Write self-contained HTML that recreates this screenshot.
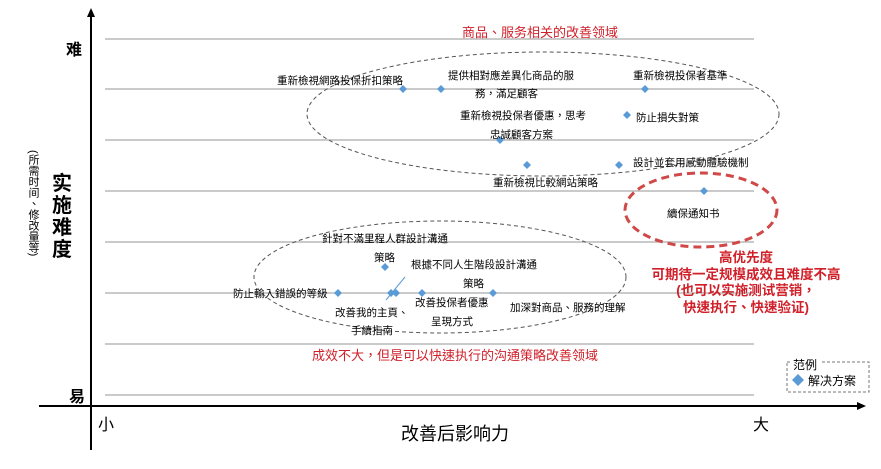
<!DOCTYPE html>
<html><head><meta charset="utf-8"><style>
html,body{margin:0;padding:0;background:#fff;}
svg text{font-family:"Liberation Sans","Noto Sans CJK TC",sans-serif;}
</style></head><body>
<svg width="881" height="464" viewBox="0 0 881 464" xmlns="http://www.w3.org/2000/svg">
<defs><marker id="ar" markerUnits="userSpaceOnUse" markerWidth="9" markerHeight="8" refX="7" refY="4" orient="auto"><path d="M0,0 L9,4 L0,8 z" fill="#000"/></marker></defs>
<g stroke="#aaa" stroke-width="1.3">
<line x1="105" y1="39" x2="754" y2="39"/><line x1="105" y1="89" x2="754" y2="89"/>
<line x1="105" y1="140" x2="754" y2="140"/><line x1="105" y1="191" x2="754" y2="191"/>
<line x1="105" y1="242" x2="754" y2="242"/><line x1="105" y1="293" x2="754" y2="293"/>
<line x1="105" y1="344" x2="754" y2="344"/><line x1="105" y1="395" x2="754" y2="395"/>
</g>
<line x1="91" y1="450" x2="91" y2="10" stroke="#000" stroke-width="2" marker-end="url(#ar)"/>
<line x1="39" y1="406" x2="864" y2="406" stroke="#000" stroke-width="2" marker-end="url(#ar)"/>
<ellipse cx="543" cy="114" rx="236" ry="62" fill="none" stroke="#555" stroke-dasharray="4,3"/>
<ellipse cx="440" cy="277" rx="186" ry="56" fill="none" stroke="#555" stroke-dasharray="4,3"/>
<ellipse cx="701" cy="210" rx="76" ry="37" fill="none" stroke="#d04848" stroke-width="3" stroke-dasharray="8,5"/>
<line x1="405" y1="277" x2="386" y2="300" stroke="#5b9bd5" stroke-width="1"/>
<g fill="#5b9bd5">
<path d="M403,85 l4,4 -4,4 -4,-4z"/><path d="M441,85 l4,4 -4,4 -4,-4z"/><path d="M645,85 l4,4 -4,4 -4,-4z"/>
<path d="M627,111 l4,4 -4,4 -4,-4z"/><path d="M500,136 l4,4 -4,4 -4,-4z"/><path d="M527,161 l4,4 -4,4 -4,-4z"/>
<path d="M619,161 l4,4 -4,4 -4,-4z"/><path d="M704,187 l4,4 -4,4 -4,-4z"/><path d="M385,263 l4,4 -4,4 -4,-4z"/>
<path d="M338,289 l4,4 -4,4 -4,-4z"/><path d="M391,289 l4,4 -4,4 -4,-4z"/><path d="M396,289 l4,4 -4,4 -4,-4z"/>
<path d="M422,289 l4,4 -4,4 -4,-4z"/><path d="M493,289 l4,4 -4,4 -4,-4z"/>
</g>
<g font-size="10.5" fill="#000">
<text x="277" y="84">重新檢視網路投保折扣策略</text>
<text x="448" y="79">提供相對應差異化商品的服</text>
<text x="475" y="97">務，滿足顧客</text>
<text x="633" y="79">重新檢視投保者基準</text>
<text x="460" y="119">重新檢視投保者優惠，思考</text>
<text x="490" y="138">忠誠顧客方案</text>
<text x="636" y="121">防止損失對策</text>
<text x="633" y="166">設計並套用感動體驗機制</text>
<text x="493" y="186">重新檢視比較網站策略</text>
<text x="667" y="217">續保通知书</text>
<text x="322" y="242">針對不滿里程人群設計溝通</text>
<text x="374" y="261">策略</text>
<text x="411" y="268">根據不同人生階段設計溝通</text>
<text x="463" y="287">策略</text>
<text x="233" y="297">防止輸入錯誤的等級</text>
<text x="335" y="316">改善我的主頁、</text>
<text x="351" y="334">手續指南</text>
<text x="415" y="306">改善投保者優惠</text>
<text x="431" y="325">呈現方式</text>
<text x="510" y="311">加深對商品、服務的理解</text>
</g>
<g fill="#d0202a" font-size="13">
<text x="540" y="37" text-anchor="middle">商品、服务相关的改善领域</text>
<text x="455" y="360" text-anchor="middle">成效不大，但是可以快速执行的沟通策略改善领域</text>
<g text-anchor="middle" font-weight="bold" font-size="13.5">
<text x="746" y="262">高优先度</text>
<text x="746" y="279">可期待一定规模成效且难度不高</text>
<text x="746" y="295">(也可以实施测试营销，</text>
<text x="746" y="312">快速执行、快速验证)</text>
</g></g>
<rect x="787" y="362" width="82" height="30" fill="#fff" stroke="#777" stroke-dasharray="3,2"/>
<rect x="791" y="357" width="30" height="12" fill="#fff"/>
<text x="793" y="369" font-size="12">范例</text>
<path d="M798,374 l6,6 -6,6 -6,-6z" fill="#5b9bd5"/>
<text x="808" y="385" font-size="12">解决方案</text>
<g font-weight="bold" font-size="16">
<text x="66" y="55">难</text><text x="69" y="402">易</text>
</g>
<text x="98" y="430" font-size="16">小</text>
<text x="753" y="430" font-size="16">大</text>
<text x="455" y="440" font-size="18" text-anchor="middle">改善后影响力</text>
<g font-size="20" font-weight="bold">
<text x="52" y="190">实</text><text x="52" y="212">施</text><text x="52" y="234">难</text><text x="52" y="256">度</text>
</g>
<text x="33" y="150" font-size="11" style="writing-mode:tb;glyph-orientation-vertical:0">(所需时间、修改量等)</text>
</svg>
</body></html>
